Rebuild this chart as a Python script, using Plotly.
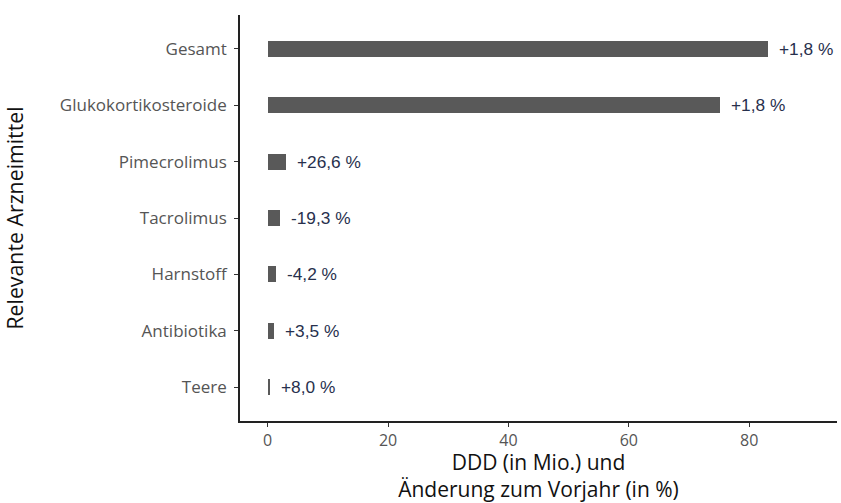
import plotly.graph_objects as go

# Daten (von unten nach oben)
kategorien = ["Teere", "Antibiotika", "Harnstoff", "Tacrolimus",
              "Pimecrolimus", "Glukokortikosteroide", "Gesamt"]
ddd_mio = [0.4, 1.0, 1.3, 2.05, 3.0, 75.2, 83.1]
aenderung = ["+8,0 %", "+3,5 %", "-4,2 %", "-19,3 %", "+26,6 %", "+1,8 %", "+1,8 %"]

fig = go.Figure()

fig.add_trace(
    go.Bar(
        x=ddd_mio,
        y=kategorien,
        orientation="h",
        width=0.284,
        marker=dict(color="#595959", line=dict(width=0)),
        showlegend=False,
        hoverinfo="x+y",
    )
)

# Beschriftung rechts neben den Balken
for kat, wert, txt in zip(kategorien, ddd_mio, aenderung):
    fig.add_annotation(
        x=wert, y=kat, text=txt,
        xanchor="left", yanchor="middle", xshift=9,
        showarrow=False,
        font=dict(family="Liberation Sans, Arial", size=17.3, color="#27304d"),
    )

fig.update_layout(
    width=841,
    height=503,
    margin=dict(l=240, r=4, t=15, b=82),
    plot_bgcolor="white",
    paper_bgcolor="white",
    font=dict(family="Open Sans", color="#000000"),
    bargap=0,
    xaxis=dict(
        range=[-4.6, 94.6],
        tickvals=[0, 20, 40, 60, 80],
        showgrid=False,
        zeroline=False,
        showline=True,
        linecolor="#222222",
        linewidth=1.6,
        ticks="outside",
        ticklen=4,
        tickwidth=1.4,
        tickcolor="#333333",
        ticklabelstandoff=0,
        tickfont=dict(family="Open Sans", size=16, color="#555555"),
        title=dict(
            text="DDD (in Mio.) und<br>Änderung zum Vorjahr (in %)",
            font=dict(family="Open Sans", size=21, color="#111111"),
            standoff=4,
        ),
    ),
    yaxis=dict(
        range=[-0.6, 6.6],
        categoryorder="array",
        categoryarray=kategorien,
        showgrid=False,
        zeroline=False,
        showline=True,
        linecolor="#222222",
        linewidth=1.6,
        ticks="outside",
        ticklen=4,
        tickwidth=1.4,
        tickcolor="#333333",
        ticklabelstandoff=4,
        tickfont=dict(family="Open Sans", size=17, color="#555555"),
        title=dict(
            text="Relevante Arzneimittel",
            font=dict(family="Open Sans", size=21.3, color="#111111"),
            standoff=34,
        ),
    ),
)

# Standard-Rand des Browsers entfernen, damit die Figur bei (0, 0) beginnt
fig.write_html(
    "out.html",
    config={"displayModeBar": False},
    post_script="document.body.style.margin = '0';",
)
